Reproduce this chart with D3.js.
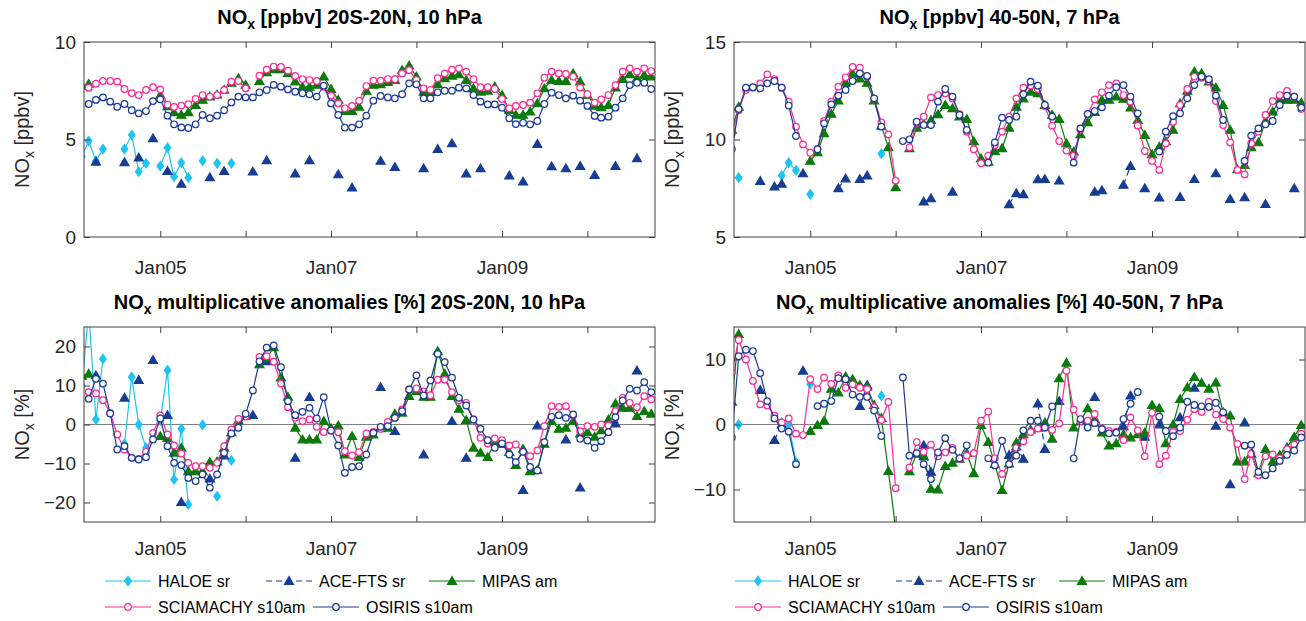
<!DOCTYPE html>
<html lang="en">
<head>
<meta charset="UTF-8">
<script src="https://cdn.jsdelivr.net/npm/d3@7"></script>
<style>
body { margin: 0; background: #fff; }
svg { font-family: "Liberation Sans", Arial, Helvetica, sans-serif; }
</style>
</head>
<body>
<svg id="fig" width="1306" height="621"></svg>
<script>
// monthly grid, Feb 2004 .. Oct 2010 (index 0 = Feb 2004)
const months = d3.timeMonth.range(new Date(2004, 1, 1), new Date(2010, 10, 1));
const xDomain = [new Date(2004, 1, 10), new Date(2010, 9, 17)];
const tickYears = [2005, 2006, 2007, 2008, 2009, 2010];
const tickLabels = ["Jan05", "", "Jan07", "", "Jan09", ""];

// ---- NOx [ppbv] 20S-20N, 10 hPa
const tropNoxSciamachy = [null,
  7.66, 7.86, 8.0, 8.0, 7.97, 7.59, 7.38, 7.28, 7.54, 7.68,
  7.57, 6.79, 6.67, 6.74, 6.81, 7.08, 7.28, 7.2, 7.28, 7.54,
  7.97, 8.0, 7.62, null, 8.27, 8.58, 8.74, 8.72, 8.53, 8.26,
  8.1, 8.05, 8.0, 7.7, 7.25, 6.85, 6.6, 6.72, 6.99, 7.74,
  8.02, 8.02, 8.1, 8.09, 8.39, 8.56, 8.05, 7.62, 7.55, 8.14,
  8.39, 8.58, 8.65, 8.48, 8.09, 7.68, 7.68, 7.59, 7.08, 6.6,
  6.72, 6.77, 6.89, 7.37, 8.17, 8.48, 8.39, 8.36, 8.22, 7.66,
  7.32, 6.89, 7.06, 7.28, 7.79, 8.48, 8.65, 8.48, 8.65, 8.51];
const tropNoxOsiris = [null,
  6.82, 7.03, 7.16, 6.94, 6.68, 6.82, 6.5, 6.34, 6.46, 6.97,
  7.06, 6.22, 5.78, 5.62, 5.59, 5.78, 6.26, 6.09, 6.22, 6.5,
  6.9, 7.2, 7.16, 7.16, 7.42, 7.54, 7.8, 7.71, 7.57, 7.45,
  7.37, 7.32, 7.2, 7.76, 6.85, 6.26, 5.61, 5.61, 5.78, 6.22,
  6.99, 7.23, 7.16, 7.11, 7.32, 7.88, 7.83, 7.11, 7.11, 7.42,
  7.5, 7.5, 7.66, 7.62, 7.28, 6.94, 6.8, 6.8, 6.63, 6.09,
  5.79, 5.86, 5.78, 5.95, 6.82, 7.4, 7.28, 7.11, 7.25, 6.99,
  6.72, 6.21, 6.12, 6.17, 6.63, 7.11, 7.79, 7.91, 7.91, 7.59];
const tropNoxMipas = [7.75,
  7.85, null, null, null, null, null, null, null, null, null,
  7.28, 6.7, 6.39, 6.26, 6.39, 6.77, 7.03, 7.2, 7.3, 7.55,
  7.9, 8.14, 7.8, null, 8.0, 8.45, 8.6, 8.6, 8.4, 7.97,
  7.7, 7.7, 7.8, 8.22, 7.59, 7.03, 6.46, 6.46, 6.68, 7.49,
  7.8, 7.83, 7.95, 8.05, 8.56, 8.79, 8.22, 7.45, 7.45, 7.83,
  8.14, 8.27, 8.34, 8.05, 7.62, 7.45, 7.5, 7.71, 7.28, 6.51,
  6.26, 6.26, 6.43, 6.85, 7.62, 8.05, 8.0, 8.0, 8.39, 7.97,
  7.28, 6.72, 6.65, 6.77, 7.66, 8.1, 8.34, 8.14, 8.3, 8.22];
// sparse records: [month index, value]
const tropNoxHaloe = [[0, 4.14], [1, 4.92], [2, 3.9], [3, 4.51], [6, 4.51], [7, 5.23], [8, 3.35],
  [9, 3.78], [11, 3.64], [12, 4.58], [13, 3.09], [14, 3.81], [15, 3.04], [17, 3.91], [19, 3.78], [21, 3.78]];
const tropNoxAce = [[2, 3.86], [6, 3.83], [8, 4.07], [10, 5.06], [12, 3.38], [14, 2.72], [18, 3.06],
  [20, 3.38], [24, 3.35], [26, 3.93], [30, 3.25], [32, 3.93], [36, 3.21], [38, 2.53], [42, 3.9],
  [44, 3.59], [48, 3.52], [50, 4.51], [52, 4.8], [54, 3.25], [56, 3.52], [60, 3.15], [62, 2.84],
  [64, 4.77], [66, 3.62], [68, 3.52], [70, 3.64], [72, 3.18], [75, 3.64], [78, 4.03]];

// ---- NOx [ppbv] 40-50N, 7 hPa
const midNoxSciamachy = [10.3,
  11.5, 12.54, 12.66, 12.88, 13.34, 13.1, 12.66, 11.94, 10.66, 9.75,
  9.32, 9.51, 10.95, 11.94, 12.71, 13.19, 13.72, 13.68, 13.22, 12.1,
  10.88, 10.26, 7.89, null, 9.6, 10.85, 11.17, 12.16, 12.28, 12.37,
  12.1, 11.3, 10.4, 9.5, 8.78, 9.17, 9.7, 10.4, 11.17, 12.11,
  12.66, 12.76, 12.59, 11.7, 10.71, 9.92, 9.43, 9.17, 10.5, 11.3,
  12.06, 12.42, 12.79, 12.88, 12.28, 11.94, 10.71, 9.41, 8.9, 8.44,
  9.8, 10.9, 11.77, 12.59, 13.22, 13.17, 13.0, 11.97, 10.74, 9.85,
  8.44, 8.21, 9.8, 10.4, 11.26, 11.97, 12.28, 12.49, 12.2, 11.56];
const midNoxOsiris = [9.5,
  11.56, 12.66, 12.68, 12.62, 12.88, 13.0, 12.66, 11.74, 10.18, null,
  null, 9.5, 10.83, 11.8, 12.25, 12.54, 13.0, 13.39, 13.26, 12.11,
  10.66, null, null, 9.92, 10.01, 10.91, 10.74, 10.74, 11.94, 12.59,
  12.2, 11.26, 10.49, null, null, 8.81, 9.85, 11.12, 11.0, 11.17,
  12.32, 12.97, 12.76, 11.77, 11.17, null, null, 8.81, 10.57, 11.31,
  11.46, 11.65, 12.25, 12.68, 12.79, 12.2, 11.34, null, null, 9.38,
  10.4, 11.2, 11.34, 12.11, 12.79, 13.22, 13.09, 12.25, 11.0, null,
  null, 8.9, 10.2, 10.57, 10.78, 10.95, 11.77, 12.25, 12.2, 11.63];
const midNoxMipas = [10.5,
  11.68, null, null, null, null, null, null, null, null, null,
  8.9, 9.34, 10.32, 11.31, 11.99, 12.91, 13.39, 13.12, 12.9, 12.0,
  10.7, 9.6, 7.55, null, 9.55, 10.6, 10.8, 11.0, 11.29, 11.77,
  11.6, 11.17, 11.05, 9.9, 9.03, 8.86, 9.4, 9.55, 10.6, 11.68,
  12.1, 12.45, 12.37, 11.77, 11.26, 11.05, 9.8, 9.38, 10.26, 10.88,
  11.4, 12.03, 12.03, 12.2, 12.08, 11.63, 11.0, 10.23, 9.24, 9.63,
  9.9, 10.49, 11.85, 12.5, 13.48, 13.39, 12.97, 12.66, 11.77, 10.49,
  8.47, 8.69, 9.6, 9.85, 10.95, 11.43, 12.03, 12.03, 12.03, 11.89];
const midNoxHaloe = [[1, 8.04], [7, 8.15], [8, 8.81], [9, 8.42], [11, 7.19], [21, 9.27]];
const midNoxAce = [[4, 7.87], [6, 7.58], [7, 7.72], [10, 8.26], [15, 7.5], [16, 8.0], [18, 7.97],
  [19, 8.15], [27, 6.81], [28, 6.98], [31, 7.32], [39, 6.68], [40, 7.24], [41, 7.19], [43, 7.96],
  [44, 7.97], [46, 7.89], [51, 7.32], [52, 7.39], [55, 7.67], [56, 8.64], [58, 7.5], [60, 7.02],
  [63, 7.05], [65, 7.97], [68, 8.26], [70, 6.95], [72, 7.03], [75, 6.69], [79, 7.5]];

// ---- multiplicative anomalies [%] 20S-20N, 10 hPa
const tropAnomSciamachy = [null,
  8.29, 7.95, 6.24, 2.99, -2.56, -6.41, -8.55, -8.8, -7.0, -2.14,
  2.31, -2.56, -5.38, -7.44, -9.83, -10.7, -10.7, -11.1, -9.83, -5.56,
  -1.28, 1.45, 2.0, null, 17.35, 17.5, 16.1, 10.5, 4.44, 1.71,
  0.85, 1.28, -0.6, -1.97, -1.54, -1.97, -6.84, -7.95, -7.09, -2.31,
  -1.88, -1.11, 0.68, 1.71, 3.85, 8.97, 9.23, 8.5, 7.5, 11.5,
  11.5, 8.29, 6.2, 5.56, 1.28, -3.42, -4.87, -3.59, -4.02, -5.38,
  -5.13, -7.0, -8.12, -6.67, -0.43, 4.7, 4.53, 4.7, 2.31, -1.71,
  -0.43, -0.6, 0, -0.26, 3.42, 6.84, 5.56, 4.44, 7.26, 6.41];
const tropAnomOsiris = [null,
  6.58, 11.7, 10.5, 2.82, -6.41, -5.56, -8.55, -8.97, -8.38, -3.85,
  1.54, -5.56, -9.83, -10.4, -13.7, -14.5, -12.8, -16.2, -12.8, -7.26,
  -2.31, -0.85, 2.74, 8.72, 16.2, 19.7, 20.3, 14.7, 5.98, 2.39,
  3.25, 4.27, 1.54, 7.0, -1.54, -5.38, -12.4, -10.9, -10.7, -7.69,
  -2.14, -0.6, -0.43, 1.71, 3.42, 8.97, 12.6, 7.44, 11.3, 18.1,
  16.0, 12.0, 6.84, 4.87, 1.28, -1.11, -4.02, -5.98, -4.87, -7.69,
  -9.66, -7.0, -10.9, -11.8, -4.53, 1.97, 2.39, 1.71, 2.56, -3.68,
  -4.1, -5.98, -4.27, -1.97, 1.88, 6.15, 9.15, 8.72, 10.85, 8.29];
const tropAnomMipas = [12.5,
  13.0, null, null, null, null, null, null, null, null, null,
  -2.99, -3.5, -7.26, -5.98, -12.0, -12.0, -12.0, -9.66, -9.5, -6.0,
  -2.0, 1.0, 2.2, null, 15.4, 17.0, 19.8, 12.0, 7.09, -0.85,
  -3.85, -3.85, -3.85, 0.85, -1.0, -0.26, -7.69, -2.99, -8.38, -3.16,
  -2.56, -1.0, -0.85, 2.74, 3.0, 7.26, 8.55, 7.09, 7.09, 18.8,
  13.0, 7.26, 4.0, 1.11, -5.98, -7.26, -8.38, -4.5, -5.0, -7.1,
  -10.4, -6.24, -12.0, -11.7, -4.96, 0.85, -1.11, -0.85, 0.85, -2.31,
  -1.97, -3.16, -1.5, 1.28, 5.38, 4.27, 4.27, 2.14, 3.42, 2.74];
const tropAnomHaloe = [[0, 10], [1, 29], [2, 1.28], [3, 16.8], [6, -5], [7, 12.2], [8, 0], [9, -6],
  [11, 1], [12, 13.9], [13, -14.1], [14, -1.1], [15, -20.5], [17, -0.1], [19, -18.4], [21, -9.2]];
const tropAnomAce = [[2, 12.6], [6, 6.84], [8, 11.4], [10, 16.5], [12, 2.39], [14, -19.9], [18, -13.9],
  [20, -7.95], [24, 2.39], [26, 16.2], [30, -8.55], [32, 7.0], [42, 9.57], [44, -1.71], [48, -7.69],
  [52, 0.85], [54, -8.55], [62, -16.8], [64, -0.26], [68, -3.85], [70, -16.2], [75, 0.26], [78, 13.8]];

// ---- multiplicative anomalies [%] 40-50N, 7 hPa
const midAnomSciamachy = [8,
  13.0, 10.0, 6.7, 3.09, 2.93, 1.36, 0.31, 0.94, -1.41, -1.62,
  6.96, 5.45, 7.23, 6.23, 7.54, 5.65, 6.18, 5.65, 5.45, 2.67,
  0.68, 3.46, -9.79, null, -6.6, -2.7, -4.2, -3.1, -4.9, -4.3,
  -3.6, -5.3, -4.8, -4.4, 0.58, 1.99, -5.2, -7.6, -6.1, -3.6,
  -2.6, -1.15, -0.63, -0.47, -0.84, 0.16, 8.27, 2.3, 0.5, 0.58,
  1.62, -0.63, -1.0, -1.15, -2.4, 1.1, -0.9, -4.9, 1.8, -6.1,
  -4.8, -1.15, -1.0, 0.73, 2.36, 1.94, 3.46, 1.52, 0.84, -0.47,
  -3.0, -8.4, -4.5, -7.8, -4.9, -4.6, -5.2, -3.8, -3.1, -1.4];
const midAnomOsiris = [-2,
  10.5, 11.5, 11.3, 7.9, 3.6, 0.94, -0.63, -1.1, -6.1, null,
  null, 2.83, 3.19, 3.61, 7.12, 6.96, 4.61, 4.24, 4.24, 2.15,
  -1.78, null, null, 7.23, -4.8, -4.4, -6.1, -8.4, -4.3, -2.1,
  -3.9, -5.2, -3.2, null, null, -5.2, -6.3, -2.5, -6.1, -4.8,
  -0.9, 0.58, 0.58, -0.47, 2.77, null, null, -5.2, 0.84, -0.47,
  0.21, -0.73, -1.36, -1.26, 0.84, 3.19, 5.0, null, null, 1.2,
  -1.0, -1.8, -0.47, 3.5, 3.0, 2.8, 2.7, 3.35, 1.88, null,
  null, -3.25, -3.1, -7.3, -7.8, -6.75, -5.6, -4.66, -4.0, -2.0];
const midAnomMipas = [3.5,
  13.9, null, null, null, null, null, null, null, null, null,
  -1.0, -0.1, 0.58, 5.5, 4.92, 7.38, 6.96, 6.07, 5.8, 3.0,
  1.0, -7.17, -16, null, -7.2, -4.5, -4.9, -9.9, -10.0, -6.4,
  -5.9, -5.3, -4.4, -7.5, -0.1, -2.7, -6.1, -10.1, -6.0, -2.8,
  -1.5, -0.8, -0.5, 0.3, -2.2, 7.1, 9.5, -0.47, 0.5, 2.5,
  0.84, -1.26, -3.25, -2.9, -1.5, -2.0, -1.5, -1.26, 3.0, 2.5,
  -2.9, 0, 3.9, 5.7, 7.3, 6.4, 5.5, 6.45, 1.88, 1.36,
  -5.7, -5.7, -4.5, -7.5, -3.8, -5.7, -4.7, -3.5, -1.9, -0.1];
const midAnomHaloe = [[1, 0], [7, 0.3], [8, 0], [9, -5.8], [11, 6.2], [21, 4.4]];
const midAnomAce = [[4, 5.3], [6, -2.4], [7, 0], [10, 8.27], [18, 2.83], [19, 6.07], [27, -3.2],
  [28, -7.3], [39, -4.7], [40, -3.4], [41, -5.3], [43, 3.2], [44, -3.8], [46, 3.6], [51, 4.2],
  [55, -0.3], [56, 4.45], [58, -1.9], [60, 0], [63, 1.1], [65, 5.65], [68, -0.2], [70, -9.2], [72, 0.3]];

// ---- styles
const seriesOrder = ["haloe", "ace", "mipas", "sciamachy", "osiris"];
const styles = {
  haloe:     { color: "#1ec4f2", marker: "diamond",  fill: "#1ec4f2", dash: null,  label: "HALOE sr" },
  ace:       { color: "#173c94", marker: "triangle", fill: "#173c94", dash: "6,4", label: "ACE-FTS sr" },
  mipas:     { color: "#0b7a0b", marker: "triangle", fill: "#0b7a0b", dash: null,  label: "MIPAS am" },
  sciamachy: { color: "#ff2a96", marker: "circle",   fill: "#ffffff", dash: null,  label: "SCIAMACHY s10am" },
  osiris:    { color: "#1b3a94", marker: "circle",   fill: "#ffffff", dash: null,  label: "OSIRIS s10am" }
};

const plotW = 571, plotH = 195;
const panels = [
  { left: 84, top: 42, yDomain: [0, 10], yTicks: [0, 5, 10], zero: false,
    title: " [ppbv] 20S-20N, 10 hPa", ylab: " [ppbv]",
    data: { haloe: tropNoxHaloe, ace: tropNoxAce, mipas: tropNoxMipas, sciamachy: tropNoxSciamachy, osiris: tropNoxOsiris } },
  { left: 734, top: 42, yDomain: [5, 15], yTicks: [5, 10, 15], zero: false,
    title: " [ppbv] 40-50N, 7 hPa", ylab: " [ppbv]",
    data: { haloe: midNoxHaloe, ace: midNoxAce, mipas: midNoxMipas, sciamachy: midNoxSciamachy, osiris: midNoxOsiris } },
  { left: 84, top: 327, yDomain: [-25, 25], yTicks: [-20, -10, 0, 10, 20], zero: true,
    title: " multiplicative anomalies [%] 20S-20N, 10 hPa", ylab: " [%]",
    data: { haloe: tropAnomHaloe, ace: tropAnomAce, mipas: tropAnomMipas, sciamachy: tropAnomSciamachy, osiris: tropAnomOsiris } },
  { left: 734, top: 327, yDomain: [-15, 15], yTicks: [-10, 0, 10], zero: true,
    title: " multiplicative anomalies [%] 40-50N, 7 hPa", ylab: " [%]",
    data: { haloe: midAnomHaloe, ace: midAnomAce, mipas: midAnomMipas, sciamachy: midAnomSciamachy, osiris: midAnomOsiris } }
];

function markerPath(type) {
  if (type === "circle") return d3.symbol(d3.symbolCircle, Math.PI * 3.3 * 3.3)();
  if (type === "triangle") return "M0,-4.4L4.5,3.3L-4.5,3.3Z";
  return "M0,-4.6L3.3,0L0,4.6L-3.3,0Z";
}

// dense array or sparse [index, value] list -> one value per month
function toMonthly(arr) {
  if (arr.length && Array.isArray(arr[0])) {
    const full = months.map(() => null);
    arr.forEach(([k, v]) => { full[k] = v; });
    return full;
  }
  return arr;
}

const svg = d3.select("#fig");

function drawPanel(p, idx) {
  const x = d3.scaleTime().domain(xDomain).range([p.left, p.left + plotW]);
  const y = d3.scaleLinear().domain(p.yDomain).range([p.top + plotH, p.top]);
  const clipId = "clip" + idx;
  svg.append("clipPath").attr("id", clipId)
    .append("rect").attr("x", p.left).attr("y", p.top).attr("width", plotW).attr("height", plotH);

  const g = svg.append("g");
  if (p.zero) {
    g.append("line").attr("x1", p.left).attr("x2", p.left + plotW)
      .attr("y1", y(0)).attr("y2", y(0)).attr("stroke", "#808080").attr("stroke-width", 1);
  }

  const plot = g.append("g").attr("clip-path", `url(#${clipId})`);
  seriesOrder.forEach(key => {
    const st = styles[key];
    const pts = toMonthly(p.data[key]).map((v, i) => ({ date: months[i], v }));
    const line = d3.line().defined(d => d.v != null).x(d => x(d.date)).y(d => y(d.v));
    plot.append("path").datum(pts).attr("d", line)
      .attr("fill", "none").attr("stroke", st.color).attr("stroke-width", 1.2)
      .attr("stroke-dasharray", st.dash);
    plot.selectAll(null).data(pts.filter(d => d.v != null)).enter()
      .append("path").attr("d", markerPath(st.marker))
      .attr("transform", d => `translate(${x(d.date)},${y(d.v)})`)
      .attr("fill", st.fill).attr("stroke", st.color).attr("stroke-width", 1.2);
  });

  const tickDates = tickYears.map(yr => new Date(yr, 0, 1));
  const styleAxis = sel => {
    sel.select(".domain").remove();
    sel.selectAll(".tick line").attr("stroke", "#404040");
    sel.selectAll(".tick text").attr("fill", "#262626").attr("font-size", 19)
      .attr("font-family", "Liberation Sans, Arial, sans-serif");
  };
  g.append("g").attr("transform", `translate(0,${p.top + plotH})`)
    .call(d3.axisBottom(x).tickValues(tickDates).tickSize(-6).tickPadding(idx < 2 ? 24 : 20)
      .tickFormat((d, i) => tickLabels[i]))
    .call(styleAxis);
  g.append("g").attr("transform", `translate(0,${p.top})`)
    .call(d3.axisTop(x).tickValues(tickDates).tickSize(-6).tickFormat(""))
    .call(styleAxis);
  g.append("g").attr("transform", `translate(${p.left},0)`)
    .call(d3.axisLeft(y).tickValues(p.yTicks).tickSize(-6).tickPadding(8))
    .call(styleAxis);
  g.append("g").attr("transform", `translate(${p.left + plotW},0)`)
    .call(d3.axisRight(y).tickValues(p.yTicks).tickSize(-6).tickFormat(""))
    .call(styleAxis);

  g.append("rect").attr("x", p.left).attr("y", p.top).attr("width", plotW).attr("height", plotH)
    .attr("fill", "none").attr("stroke", "#404040").attr("stroke-width", 1);

  // title
  const t = g.append("text").attr("x", p.left + plotW / 2 - 20).attr("y", p.top - 18)
    .attr("text-anchor", "middle").attr("font-weight", "bold").attr("font-size", 20).attr("fill", "#000");
  t.append("tspan").text("NO");
  t.append("tspan").attr("dy", 5).attr("font-size", 14).text("x");
  t.append("tspan").attr("dy", -5).text(p.title);

  // y label
  const yl = g.append("text")
    .attr("transform", `translate(${p.left - 55},${p.top + plotH / 2}) rotate(-90)`)
    .attr("text-anchor", "middle").attr("font-size", 20).attr("fill", "#262626");
  yl.append("tspan").text("NO");
  yl.append("tspan").attr("dy", 5).attr("font-size", 14).text("x");
  yl.append("tspan").attr("dy", -5).text(p.ylab);
}

panels.forEach(drawPanel);

// legends under the lower panels: [x offset of line start, row]
const legendRows = [581, 607];
const legendSlots = { haloe: [0, 0], ace: [161, 0], mipas: [324, 0], sciamachy: [0, 1], osiris: [208, 1] };

function drawLegend(lx) {
  const lg = svg.append("g");
  seriesOrder.forEach(key => {
    const st = styles[key];
    const [dx, r] = legendSlots[key];
    const x0 = lx + dx, yy = legendRows[r];
    lg.append("line").attr("x1", x0).attr("x2", x0 + 46).attr("y1", yy).attr("y2", yy)
      .attr("stroke", st.color).attr("stroke-width", 1.2).attr("stroke-dasharray", st.dash);
    lg.append("path").attr("d", markerPath(st.marker)).attr("transform", `translate(${x0 + 23},${yy})`)
      .attr("fill", st.fill).attr("stroke", st.color).attr("stroke-width", 1.2);
    lg.append("text").attr("x", x0 + 53).attr("y", yy + 6).attr("font-size", 16)
      .attr("fill", "#000").text(st.label);
  });
}
drawLegend(105);
drawLegend(735);
</script>
</body>
</html>
